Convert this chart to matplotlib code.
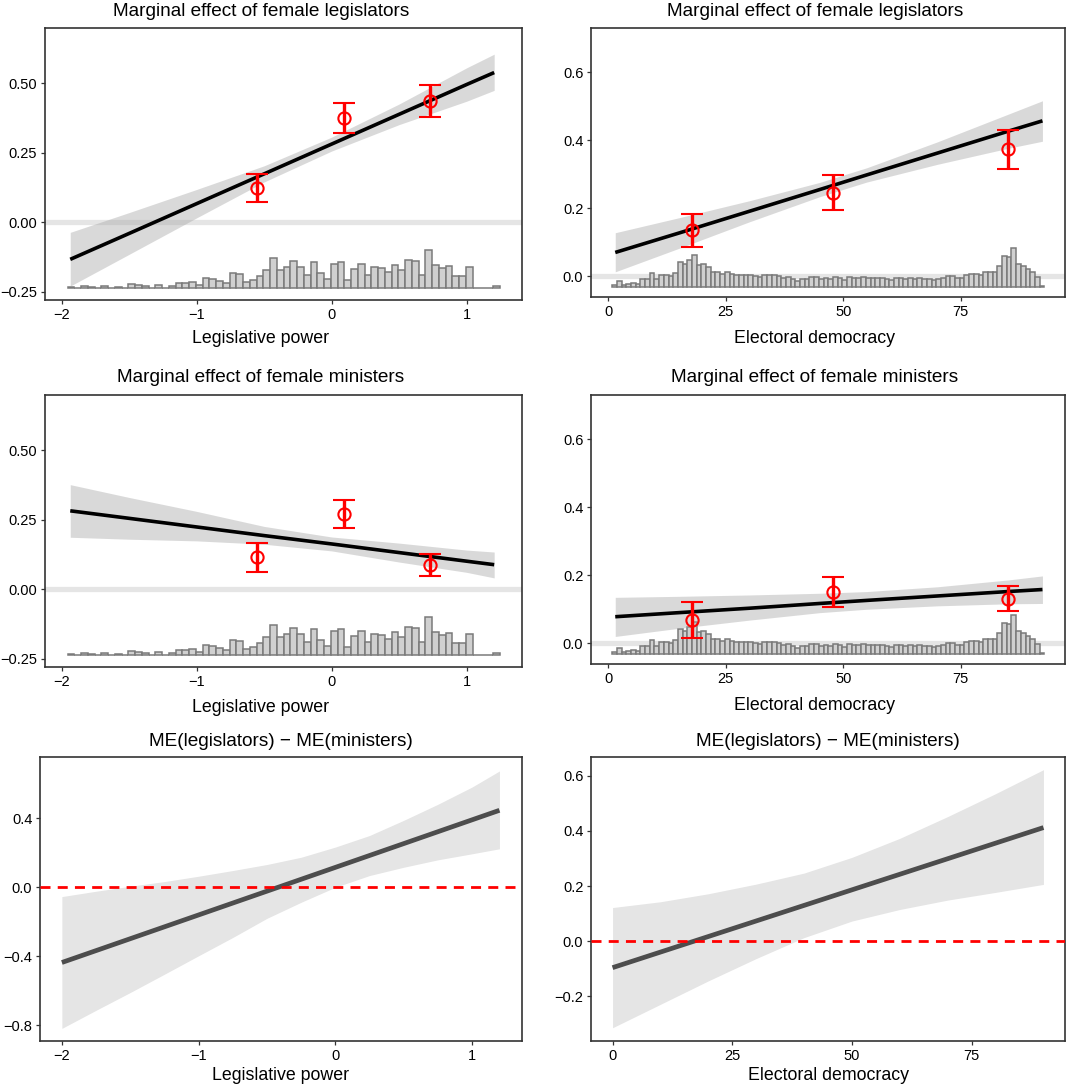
import numpy as np
import matplotlib.pyplot as plt

plt.rcParams['font.family'] = ['Liberation Sans', 'DejaVu Sans']

W, H = 1067, 1087

# moderator histograms (relative bar heights)
lp_edge0, lp_binw = -1.955, 0.05
lp_counts = [3, 0, 8, 5, 2, 6, 0, 5, 0, 12, 11, 6, 1, 10, 1, 8, 16, 17, 18, 9,
             30, 28, 22, 16, 47, 42, 20, 26, 36, 56, 92, 54, 63, 82, 63, 39, 80, 46, 29, 73,
             80, 26, 58, 73, 39, 64, 61, 49, 69, 54, 86, 83, 39, 115, 70, 61, 66, 36, 38, 64,
             0, 2, 0, 6]
ed_edge0, ed_binw = 0.8, 1.0
ed_counts = [6, 18, 4, 7, 10, 7, 24, 23, 40, 24, 35, 34, 33, 41, 75, 68, 79, 94, 66, 69,
             58, 43, 45, 37, 43, 37, 35, 35, 35, 34, 31, 28, 34, 35, 34, 31, 27, 29, 23, 18,
             22, 22, 28, 30, 24, 26, 23, 28, 27, 21, 28, 27, 26, 28, 25, 26, 25, 26, 24, 21,
             25, 25, 24, 26, 23, 25, 24, 23, 21, 23, 27, 32, 31, 27, 26, 34, 38, 38, 35, 43,
             43, 43, 63, 93, 90, 117, 69, 62, 54, 45, 30, 2]

# linear fits with 95% bands
lp_grid = [-1.936, -1.5, -1.0, -0.5, 0.0, 0.5, 1.0, 1.204]
ed_grid = [1.46, 15, 30, 45, 55, 70, 85, 92.4]

leg_lp_fit = [-0.133, -0.040, 0.067, 0.174, 0.281, 0.388, 0.495, 0.538]
leg_lp_hi = [-0.036, 0.035, 0.118, 0.203, 0.306, 0.425, 0.555, 0.604]
leg_lp_lo = [-0.229, -0.115, 0.016, 0.145, 0.256, 0.351, 0.435, 0.474]

leg_ed_fit = [0.070, 0.127, 0.191, 0.255, 0.298, 0.362, 0.426, 0.457]
leg_ed_hi = [0.128, 0.172, 0.222, 0.276, 0.319, 0.395, 0.476, 0.516]
leg_ed_lo = [0.013, 0.082, 0.160, 0.234, 0.277, 0.329, 0.376, 0.397]

min_lp_fit = [0.282, 0.255, 0.224, 0.193, 0.163, 0.132, 0.101, 0.0885]
min_lp_hi = [0.376, 0.330, 0.280, 0.226, 0.188, 0.166, 0.141, 0.134]
min_lp_lo = [0.187, 0.180, 0.174, 0.162, 0.138, 0.098, 0.061, 0.041]

min_ed_fit = [0.078, 0.090, 0.103, 0.117, 0.126, 0.139, 0.152, 0.158]
min_ed_hi = [0.135, 0.138, 0.142, 0.147, 0.152, 0.166, 0.186, 0.198]
min_ed_lo = [0.020, 0.044, 0.068, 0.090, 0.100, 0.110, 0.116, 0.117]

# binned estimates (low / mid / high tercile)
lp_bins = [-0.551, 0.094, 0.727]
ed_bins = [17.85, 47.9, 85.1]
leg_lp_est = [0.122, 0.374, 0.436]; leg_lp_elo = [0.074, 0.320, 0.378]; leg_lp_ehi = [0.173, 0.428, 0.492]
leg_ed_est = [0.135, 0.246, 0.373]; leg_ed_elo = [0.086, 0.195, 0.316]; leg_ed_ehi = [0.184, 0.297, 0.429]
min_lp_est = [0.115, 0.272, 0.0885]; min_lp_elo = [0.063, 0.222, 0.049]; min_lp_ehi = [0.166, 0.322, 0.128]
min_ed_est = [0.069, 0.152, 0.131]; min_ed_elo = [0.015, 0.107, 0.096]; min_ed_ehi = [0.122, 0.195, 0.168]

# difference of marginal effects
dlp_x = [-2.0, -1.75, -1.5, -1.25, -1.0, -0.75, -0.5, -0.25, 0.0, 0.25, 0.5, 0.75, 1.0, 1.2]
dlp_hi = [-0.054, -0.023, 0.006, 0.033, 0.064, 0.097, 0.132, 0.174, 0.233, 0.300, 0.388, 0.481, 0.581, 0.674]
dlp_lo = [-0.818, -0.713, -0.610, -0.504, -0.397, -0.291, -0.180, -0.087, 0.0, 0.068, 0.116, 0.159, 0.194, 0.223]
dlp_line_x = [-2.0, 1.2]
dlp_line_y = [-0.436, 0.446]

ded_x = [0, 10, 20, 30, 40, 50, 60, 70, 80, 90]
ded_hi = [0.122, 0.143, 0.172, 0.207, 0.247, 0.304, 0.373, 0.452, 0.535, 0.622]
ded_lo = [-0.314, -0.229, -0.144, -0.063, 0.013, 0.073, 0.115, 0.149, 0.177, 0.206]
ded_line_x = [0, 90]
ded_line_y = [-0.096, 0.412]


def px_axes(x0, y0, x1, y1):
    return fig.add_axes([x0 / W, 1 - y1 / H, (x1 - x0) / W, (y1 - y0) / H])


def style(ax):
    for s in ax.spines.values():
        s.set_color('#333333')
        s.set_linewidth(1.2)
    ax.tick_params(length=3, width=0.9, color='#333333', labelsize=10.5,
                   labelcolor='black', pad=2.5)


def me_panel(ax, grid, fit, lo, hi, bx, est, elo, ehi, edge0, binw, counts,
             base, hmax, xlim, ylim, xticks, yticks, yfmt):
    ax.axhline(0, color='#e5e5e5', lw=3.8, zorder=1)
    lefts = edge0 + binw * np.arange(len(counts))
    heights = np.asarray(counts, float) / max(counts) * hmax
    ax.bar(lefts, heights, width=binw, bottom=base, align='edge',
           color='#d0d0d0', edgecolor='#7a7a7a', lw=1.1, zorder=2)
    ax.fill_between(grid, lo, hi, color='#a6a6a6', alpha=0.42, lw=0, zorder=3)
    ax.plot(grid, fit, color='black', lw=2.6, zorder=4, solid_capstyle='butt')
    est = np.asarray(est)
    yerr = [est - np.asarray(elo), np.asarray(ehi) - est]
    ax.errorbar(bx, est, yerr=yerr, fmt='o', color='red', mfc='none', mec='red',
                ms=8.8, mew=1.5, elinewidth=2.4, capsize=7.7, capthick=2.4, zorder=5)
    ax.set_xlim(*xlim)
    ax.set_ylim(*ylim)
    ax.set_xticks(xticks)
    ax.set_yticks(yticks)
    ax.set_yticklabels([yfmt.format(v).replace('-', '\u2212') for v in yticks])
    style(ax)


def diff_panel(ax, bx, lo, hi, lx, ly, xlim, ylim, xticks, yticks):
    ax.fill_between(bx, lo, hi, color='#e5e5e5', lw=0, zorder=1)
    ax.plot(lx, ly, color='#4d4d4d', lw=3.4, zorder=2, solid_capstyle='butt')
    ax.axhline(0, color='red', lw=2.0, ls=(0, (3.6, 2.6)), zorder=3)
    ax.set_xlim(*xlim)
    ax.set_ylim(*ylim)
    ax.set_xticks(xticks)
    ax.set_yticks(yticks)
    ax.set_yticklabels(['{:.1f}'.format(v).replace('-', '\u2212') for v in yticks])
    style(ax)


fig = plt.figure(figsize=(W / 100, H / 100), dpi=100)

lp_xlim = (-2.123, 1.410)
ed_xlim = (-3.7, 97.2)
lp_ylim = (-0.279, 0.698)
ed_ylim = (-0.061, 0.730)

ax = px_axes(45, 28, 522, 300)
me_panel(ax, lp_grid, leg_lp_fit, leg_lp_lo, leg_lp_hi, lp_bins, leg_lp_est, leg_lp_elo,
         leg_lp_ehi, lp_edge0, lp_binw, lp_counts, -0.237, 0.138, lp_xlim, lp_ylim,
         [-2, -1, 0, 1], [-0.25, 0, 0.25, 0.5], '{:.2f}')
ax = px_axes(591, 28, 1065, 297)
me_panel(ax, ed_grid, leg_ed_fit, leg_ed_lo, leg_ed_hi, ed_bins, leg_ed_est, leg_ed_elo,
         leg_ed_ehi, ed_edge0, ed_binw, ed_counts, -0.031, 0.115, ed_xlim, ed_ylim,
         [0, 25, 50, 75], [0, 0.2, 0.4, 0.6], '{:.1f}')
ax = px_axes(45, 395, 522, 667)
me_panel(ax, lp_grid, min_lp_fit, min_lp_lo, min_lp_hi, lp_bins, min_lp_est, min_lp_elo,
         min_lp_ehi, lp_edge0, lp_binw, lp_counts, -0.237, 0.138, lp_xlim, lp_ylim,
         [-2, -1, 0, 1], [-0.25, 0, 0.25, 0.5], '{:.2f}')
ax = px_axes(591, 395, 1065, 664)
me_panel(ax, ed_grid, min_ed_fit, min_ed_lo, min_ed_hi, ed_bins, min_ed_est, min_ed_elo,
         min_ed_ehi, ed_edge0, ed_binw, ed_counts, -0.031, 0.115, ed_xlim, ed_ylim,
         [0, 25, 50, 75], [0, 0.2, 0.4, 0.6], '{:.1f}')

ax = px_axes(40, 757, 522, 1041)
diff_panel(ax, dlp_x, dlp_lo, dlp_hi, dlp_line_x, dlp_line_y, (-2.16, 1.365),
           (-0.891, 0.755), [-2, -1, 0, 1], [-0.8, -0.4, 0.0, 0.4])
ax = px_axes(591, 757, 1065, 1041)
diff_panel(ax, ded_x, ded_lo, ded_hi, ded_line_x, ded_line_y, (-4.5, 94.5),
           (-0.362, 0.668), [0, 25, 50, 75], [-0.2, 0.0, 0.2, 0.4, 0.6])

# titles and axis titles
def ftext(x, y, s, size):
    fig.text(x / W, 1 - y / H, s, ha='center', va='center', fontsize=size)

ftext(261, 12, 'Marginal effect of female legislators', 13.7)
ftext(815, 12, 'Marginal effect of female legislators', 13.7)
ftext(261, 378, 'Marginal effect of female ministers', 13.7)
ftext(815, 378, 'Marginal effect of female ministers', 13.7)
ftext(281, 741, 'ME(legislators) \u2212 ME(ministers)', 13.7)
ftext(828, 741, 'ME(legislators) \u2212 ME(ministers)', 13.7)
ftext(261, 339, 'Legislative power', 12.8)
ftext(815, 339, 'Electoral democracy', 12.8)
ftext(261, 707, 'Legislative power', 12.8)
ftext(815, 705, 'Electoral democracy', 12.8)
ftext(281, 1075, 'Legislative power', 12.8)
ftext(828, 1075, 'Electoral democracy', 12.8)

fig.savefig('out.png', dpi=100)
